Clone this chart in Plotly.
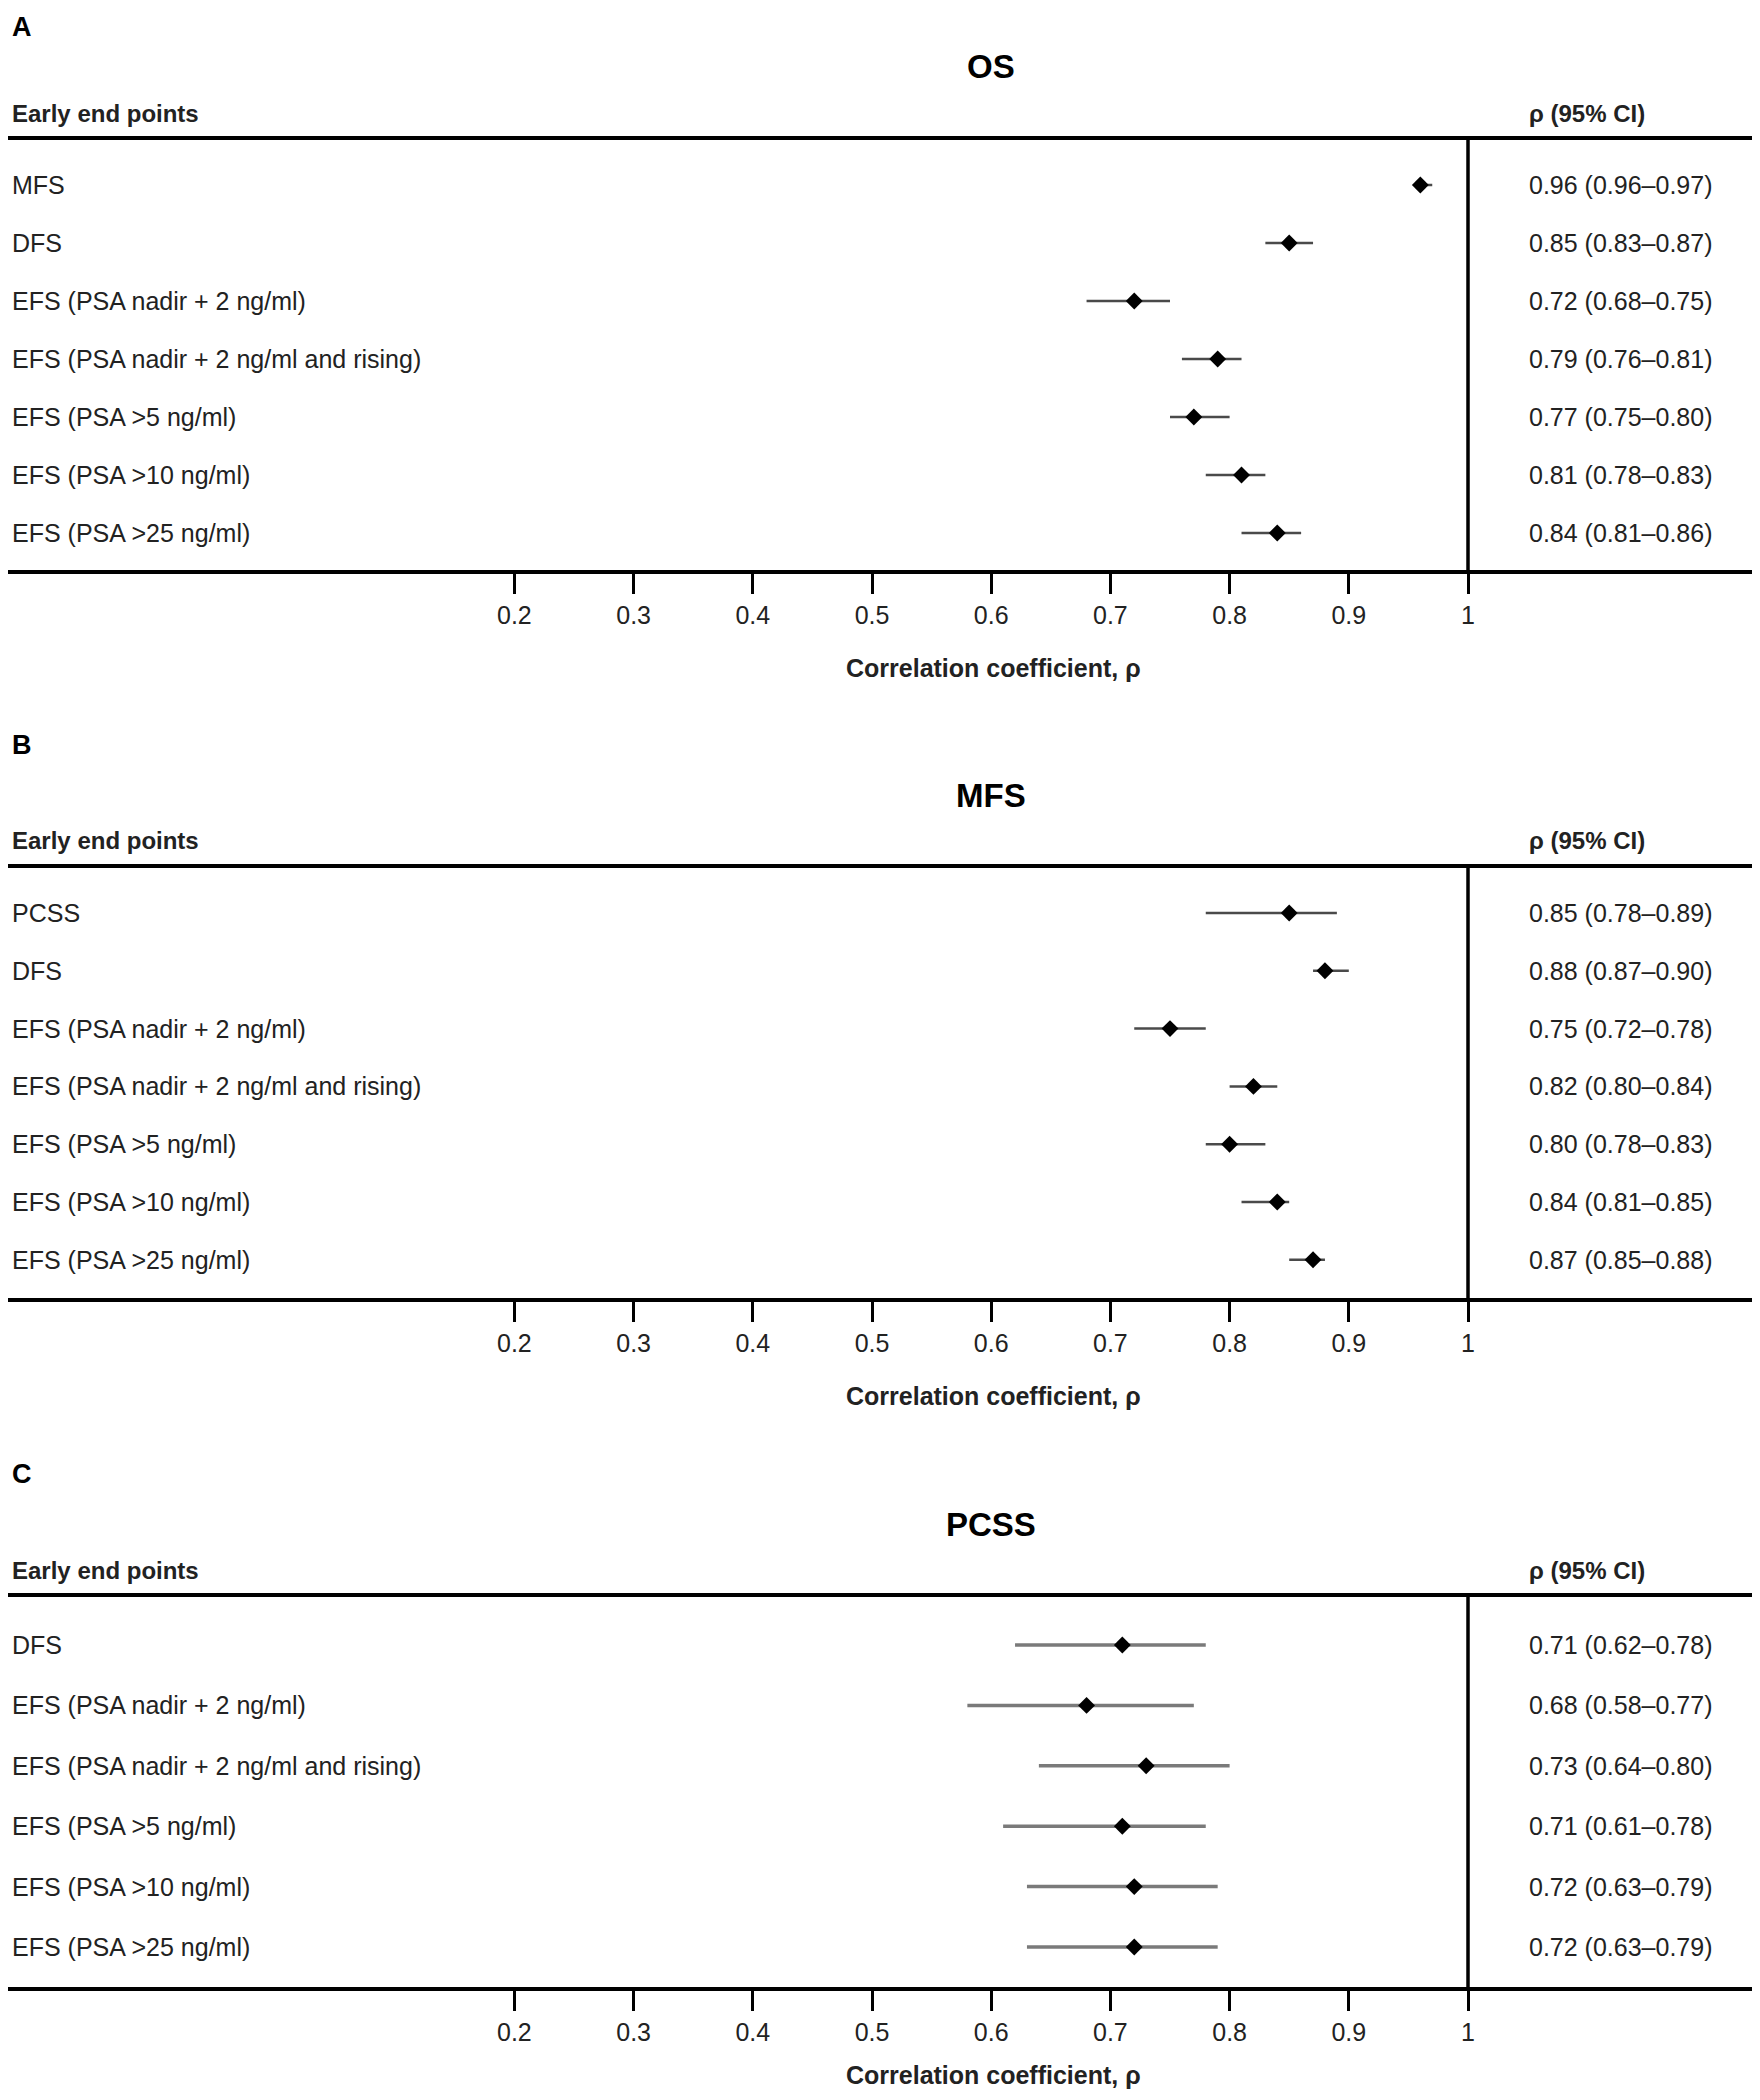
import plotly.graph_objects as go

# ---------------- data ----------------
panel_letters = ["A", "B", "C"]
panel_titles = ["OS", "MFS", "PCSS"]

labels_os = ["MFS", "DFS", "EFS (PSA nadir + 2 ng/ml)", "EFS (PSA nadir + 2 ng/ml and rising)",
             "EFS (PSA >5 ng/ml)", "EFS (PSA >10 ng/ml)", "EFS (PSA >25 ng/ml)"]
rho_os = [0.96, 0.85, 0.72, 0.79, 0.77, 0.81, 0.84]
lo_os = [0.96, 0.83, 0.68, 0.76, 0.75, 0.78, 0.81]
hi_os = [0.97, 0.87, 0.75, 0.81, 0.80, 0.83, 0.86]

labels_mfs = ["PCSS", "DFS", "EFS (PSA nadir + 2 ng/ml)", "EFS (PSA nadir + 2 ng/ml and rising)",
              "EFS (PSA >5 ng/ml)", "EFS (PSA >10 ng/ml)", "EFS (PSA >25 ng/ml)"]
rho_mfs = [0.85, 0.88, 0.75, 0.82, 0.80, 0.84, 0.87]
lo_mfs = [0.78, 0.87, 0.72, 0.80, 0.78, 0.81, 0.85]
hi_mfs = [0.89, 0.90, 0.78, 0.84, 0.83, 0.85, 0.88]

labels_pcss = ["DFS", "EFS (PSA nadir + 2 ng/ml)", "EFS (PSA nadir + 2 ng/ml and rising)",
               "EFS (PSA >5 ng/ml)", "EFS (PSA >10 ng/ml)", "EFS (PSA >25 ng/ml)"]
rho_pcss = [0.71, 0.68, 0.73, 0.71, 0.72, 0.72]
lo_pcss = [0.62, 0.58, 0.64, 0.61, 0.63, 0.63]
hi_pcss = [0.78, 0.77, 0.80, 0.78, 0.79, 0.79]

tick_vals = [0.2, 0.3, 0.4, 0.5, 0.6, 0.7, 0.8, 0.9, 1.0]
tick_text = ["0.2", "0.3", "0.4", "0.5", "0.6", "0.7", "0.8", "0.9", "1"]
x_title = "Correlation coefficient, ρ"
left_header = "Early end points"
right_header = "ρ (95% CI)"

# ---------------- layout geometry (page pixels) ----------------
OFF = 8                      # default page body margin
W, H = 1760 - 2 * OFF, 2100 - 2 * OFF
FONT = "Liberation Sans, Arial, sans-serif"
TXT = "#222222"
LEFT_TXT = 10                # page x of left-aligned texts

panels = [
    dict(labels=labels_os, rho=rho_os, lo=lo_os, hi=hi_os, top=140, bottom=570, first=185, sp=58.0,
         ci_color="#4a4a4a", ci_w=2.5),
    dict(labels=labels_mfs, rho=rho_mfs, lo=lo_mfs, hi=hi_mfs, top=868, bottom=1298, first=913, sp=57.8,
         ci_color="#4a4a4a", ci_w=2.5),
    dict(labels=labels_pcss, rho=rho_pcss, lo=lo_pcss, hi=hi_pcss, top=1597, bottom=1987, first=1645, sp=60.4,
         ci_color="#7a7a7a", ci_w=3.5),
]


def py(px):
    return 1 - (px - OFF) / H


def pxx(px):
    return (px - OFF) / W


x0_px, unit_px = 276.0, 1192.0
x_domain = [0.0, min(1.0, pxx(1754))]
x_range = [((x_domain[0] * W + OFF) - x0_px) / unit_px, ((x_domain[1] * W + OFF) - x0_px) / unit_px]

fig = go.Figure()
annotations = []
shapes = []
layout_axes = {}

for k, p in enumerate(panels):
    n = len(p["labels"])
    idx = "" if k == 0 else str(k + 1)
    xa, ya = "x" + idx, "y" + idx
    rows = list(range(n))
    err_plus = [h - r for h, r in zip(p["hi"], p["rho"])]
    err_minus = [r - l for r, l in zip(p["rho"], p["lo"])]
    fig.add_trace(go.Scatter(
        x=p["rho"], y=rows, mode="markers", xaxis=xa, yaxis=ya, showlegend=False,
        marker=dict(symbol="diamond", size=13, color="black"),
        error_x=dict(type="data", symmetric=False, array=err_plus, arrayminus=err_minus,
                     color=p["ci_color"], thickness=p["ci_w"], width=0),
        hoverinfo="skip",
    ))
    layout_axes["xaxis" + idx] = dict(
        domain=x_domain, range=x_range, anchor=ya,
        showline=True, linewidth=3.5, linecolor="black", mirror=True,
        ticks="outside", ticklen=20, tickwidth=2.5, tickcolor="black",
        tickvals=tick_vals, ticktext=tick_text, ticklabelstandoff=0,
        tickfont=dict(family=FONT, size=25, color=TXT),
        showgrid=False, zeroline=False, fixedrange=True,
    )
    y_rng = [(p["bottom"] - p["first"]) / p["sp"], -(p["first"] - p["top"]) / p["sp"]]
    layout_axes["yaxis" + idx] = dict(
        domain=[py(p["bottom"]), py(p["top"])], range=y_rng, anchor=xa,
        showline=False, showgrid=False, zeroline=False, showticklabels=False, ticks="",
        fixedrange=True,
    )
    # vertical reference line at 1
    shapes.append(dict(type="line", xref=xa, yref=ya + " domain", x0=1, x1=1, y0=0, y1=1,
                       line=dict(color="black", width=3.5)))
    # row labels and values
    for i in rows:
        annotations.append(dict(x=pxx(LEFT_TXT), y=i, xref="paper", yref=ya, text=p["labels"][i],
                                xanchor="left", yanchor="middle", showarrow=False,
                                font=dict(family=FONT, size=25, color=TXT)))
        annotations.append(dict(x=pxx(1527), y=i, xref="paper", yref=ya,
                                text=f"{p['rho'][i]:.2f} ({p['lo'][i]:.2f}–{p['hi'][i]:.2f})",
                                xanchor="left", yanchor="middle", showarrow=False,
                                font=dict(family=FONT, size=25, color=TXT)))
    top = p["top"]
    # headers
    annotations.append(dict(x=pxx(LEFT_TXT), y=py(top - 27), xref="paper", yref="paper",
                            text=f"<b>{left_header}</b>",
                            xanchor="left", yanchor="middle", showarrow=False,
                            font=dict(family=FONT, size=24, color=TXT)))
    annotations.append(dict(x=pxx(1527), y=py(top - 27), xref="paper", yref="paper",
                            text=f"<b>{right_header}</b>",
                            xanchor="left", yanchor="middle", showarrow=False,
                            font=dict(family=FONT, size=24, color=TXT)))
    annotations.append(dict(x=pxx(991), y=py(top - 73), xref="paper", yref="paper",
                            text=f"<b>{panel_titles[k]}</b>",
                            xanchor="center", yanchor="middle", showarrow=False,
                            font=dict(family=FONT, size=33, color="black")))
    annotations.append(dict(x=pxx(LEFT_TXT), y=py(max(top - 123, 27)), xref="paper", yref="paper",
                            text=f"<b>{panel_letters[k]}</b>",
                            xanchor="left", yanchor="middle", showarrow=False,
                            font=dict(family=FONT, size=27, color="black")))
    annotations.append(dict(x=pxx(993), y=py(min(p["bottom"] + 98, 2075)), xref="paper", yref="paper",
                            text=f"<b>{x_title}</b>",
                            xanchor="center", yanchor="middle", showarrow=False,
                            font=dict(family=FONT, size=25, color=TXT)))

fig.update_layout(
    width=W, height=H, margin=dict(l=0, r=0, t=0, b=0),
    paper_bgcolor="white", plot_bgcolor="white",
    annotations=annotations, shapes=shapes, showlegend=False,
    **layout_axes,
)

fig.write_html("out.html")
